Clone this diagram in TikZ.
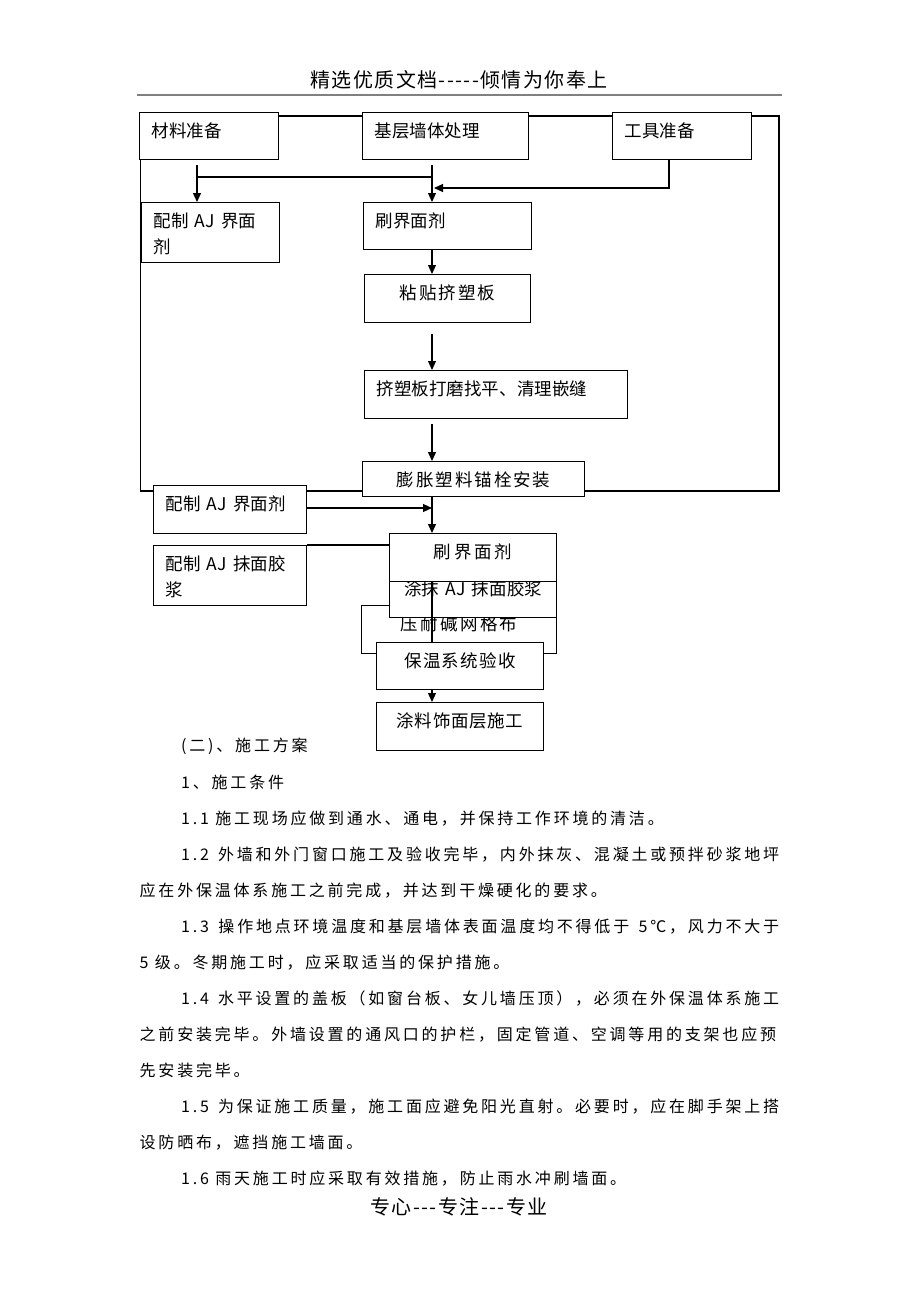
\documentclass[tikz,border=0pt]{standalone}
\usepackage{fontspec}
\usepackage{tikz}
\usetikzlibrary{arrows.meta,backgrounds}
\newfontfamily\cjkbox[LetterSpace=4]{Noto Sans CJK SC}
\newfontfamily\cjkbody[LetterSpace=17.5]{Noto Sans CJK SC}
\newfontfamily\cjkhead[LetterSpace=7]{Noto Sans CJK SC}
\XeTeXlinebreaklocale "zh"
\XeTeXlinebreakskip=0pt plus 3pt minus 1pt
\definecolor{headrule}{gray}{0.5}
\newcommand\justline[2]{\hbox to #1{#2}}
\tikzset{box/.style 2 args={
    draw,
    fill=white,
    line width=1.3pt,
    anchor=north west,
    inner xsep=12pt,
    inner ysep=0pt,
    align=left,
    font=\cjkbox\fontsize{17.5pt}{26pt}\selectfont,
    text width=#1pt-24pt,
    text height=24.5pt,
    text depth=#2pt-24.5pt}}
\tikzset{flow/.style={
    line width=1.2pt,
    -{Triangle[length=9pt,width=8pt]}}}
\tikzset{wire/.style={
    line width=1.2pt}}
\tikzset{para/.style={
    anchor=west,
    inner sep=0pt,
    font=\cjkbody\fontsize{16pt}{20pt}\selectfont}}
\tikzset{banner/.style={
    inner sep=0pt,
    font=\cjkhead\fontsize{20pt}{24pt}\selectfont}}

\begin{document}
\begin{tikzpicture}[x=1pt, y=-1pt]
  \useasboundingbox (0,0) rectangle (920,1302);

  \node[banner] (header) at (459,80) {精选优质文档-----倾情为你奉上};
  \draw[headrule, line width=1.2pt] (137,95) -- (782,95);

  \coordinate (loopNE) at (779,116);
  \coordinate (loopSW) at (140.5,491);
  \coordinate (forkLtop) at (197,165);
  \coordinate (forkL) at (197,177);
  \coordinate (forkRtop) at (432,165);
  \coordinate (forkR) at (432,177);
  \coordinate (gjDrop) at (669,188);
  \coordinate (gjTip) at (434,188);
  \coordinate (axis) at (432,0);
  \coordinate (gapA) at (432,334);
  \coordinate (gapB) at (432,424);
  \coordinate (joinB) at (432,508);

  \node[box={139}{47}] (cailiao) at (139,112) {材料准备};
  \node[box={166}{47}] (jiceng) at (362,112) {基层墙体处理};
  \node[box={139}{47}] (gongju) at (612,112) {工具准备};
  \node[box={138}{60}] (peizhiA) at (141,202) {配制 AJ 界面\\剂};
  \node[box={168}{47}] (shuaA) at (363,202) {刷界面剂};
  \node[box={166}{48}, align=center] (zhantie) at (364,274) {粘贴挤塑板};
  \node[box={263}{48}] (damo) at (364,370) {挤塑板打磨找平、清理嵌缝};
  \node[box={222}{35}, align=center] (pengzhang) at (362,461) {膨胀塑料锚栓安装};
  \node[box={153}{48}] (peizhiB) at (153,485) {配制 AJ 界面剂};
  \node[box={153}{60}] (mojiang) at (153,545) {配制 AJ 抹面胶\\浆};

  \node[box={195}{48}, align=center] (yawang) at (361,605) {压耐碱网格布};
  \node[box={167}{36}, align=center,
    text height=13.6pt,
    text depth=22.4pt] (tumo) at (389,581) {涂抹 AJ 抹面胶浆};
  \node[box={167}{48}, align=center] (shuaB) at (389,533) {刷界面剂};
  \node[box={167}{47}, align=center] (yanshou) at (376,642) {保温系统验收};
  \node[box={167}{48}, align=center] (tuliao) at (376,702) {涂料饰面层施工};

  \begin{scope}[on background layer]
    \draw[wire] (cailiao.north east |- loopNE) -- (loopNE) -- (loopNE |- loopSW)
      -- (loopSW) -- (loopSW |- cailiao.south);
  \end{scope}

  \draw[flow] (forkLtop) -- (forkLtop |- peizhiA.north);
  \draw[wire] (forkL) -- (forkR);
  \draw[flow] (forkRtop) -- (forkRtop |- shuaA.north);
  \draw[flow] (gongju.south -| gjDrop) -- (gjDrop) -- (gjTip);
  \draw[flow] (shuaA.south -| axis) -- (zhantie.north -| axis);
  \draw[flow] (gapA) -- (damo.north -| gapA);
  \draw[flow] (gapB) -- (pengzhang.north -| gapB);
  \draw[flow] (pengzhang.south -| axis) -- (shuaB.north -| axis);
  \draw[flow] (peizhiB.east |- joinB) -- (joinB);
  \draw[wire] (mojiang.north east) -- (mojiang.north east -| shuaB.west);
  \draw[wire] (shuaB.south -| axis) -- (yanshou.north -| axis);
  \draw[flow] (yanshou.south -| axis) -- (tuliao.north -| axis);

  \node[para] (sec) at (181,746.5) {(二)、施工方案};
  \node[para] (cond) at (181,782.5) {1、施工条件};
  \node[para] (p11) at (181,818.5) {1.1 施工现场应做到通水、通电，并保持工作环境的清洁。};
  \node[para] (p12a) at (181,854.5) {\justline{598pt}{1.2 外墙和外门窗口施工及验收完毕，内外抹灰、混凝土或预拌砂浆地坪}};
  \node[para] (p12b) at (139.5,890.5) {应在外保温体系施工之前完成，并达到干燥硬化的要求。};
  \node[para] (p13a) at (181,926.5) {\justline{598pt}{1.3 操作地点环境温度和基层墙体表面温度均不得低于 5℃，风力不大于}};
  \node[para] (p13b) at (139.5,962.5) {5 级。冬期施工时，应采取适当的保护措施。};
  \node[para] (p14a) at (181,998.5) {\justline{598pt}{1.4 水平设置的盖板（如窗台板、女儿墙压顶），必须在外保温体系施工}};
  \node[para] (p14b) at (139.5,1034.5) {\justline{640pt}{之前安装完毕。外墙设置的通风口的护栏，固定管道、空调等用的支架也应预}};
  \node[para] (p14c) at (139.5,1070.5) {先安装完毕。};
  \node[para] (p15a) at (181,1106.5) {\justline{598pt}{1.5 为保证施工质量，施工面应避免阳光直射。必要时，应在脚手架上搭}};
  \node[para] (p15b) at (139.5,1142.5) {设防晒布，遮挡施工墙面。};
  \node[para] (p16) at (181,1178.5) {1.6 雨天施工时应采取有效措施，防止雨水冲刷墙面。};

  \node[banner] (footer) at (459,1207) {专心---专注---专业};
\end{tikzpicture}
\end{document}
